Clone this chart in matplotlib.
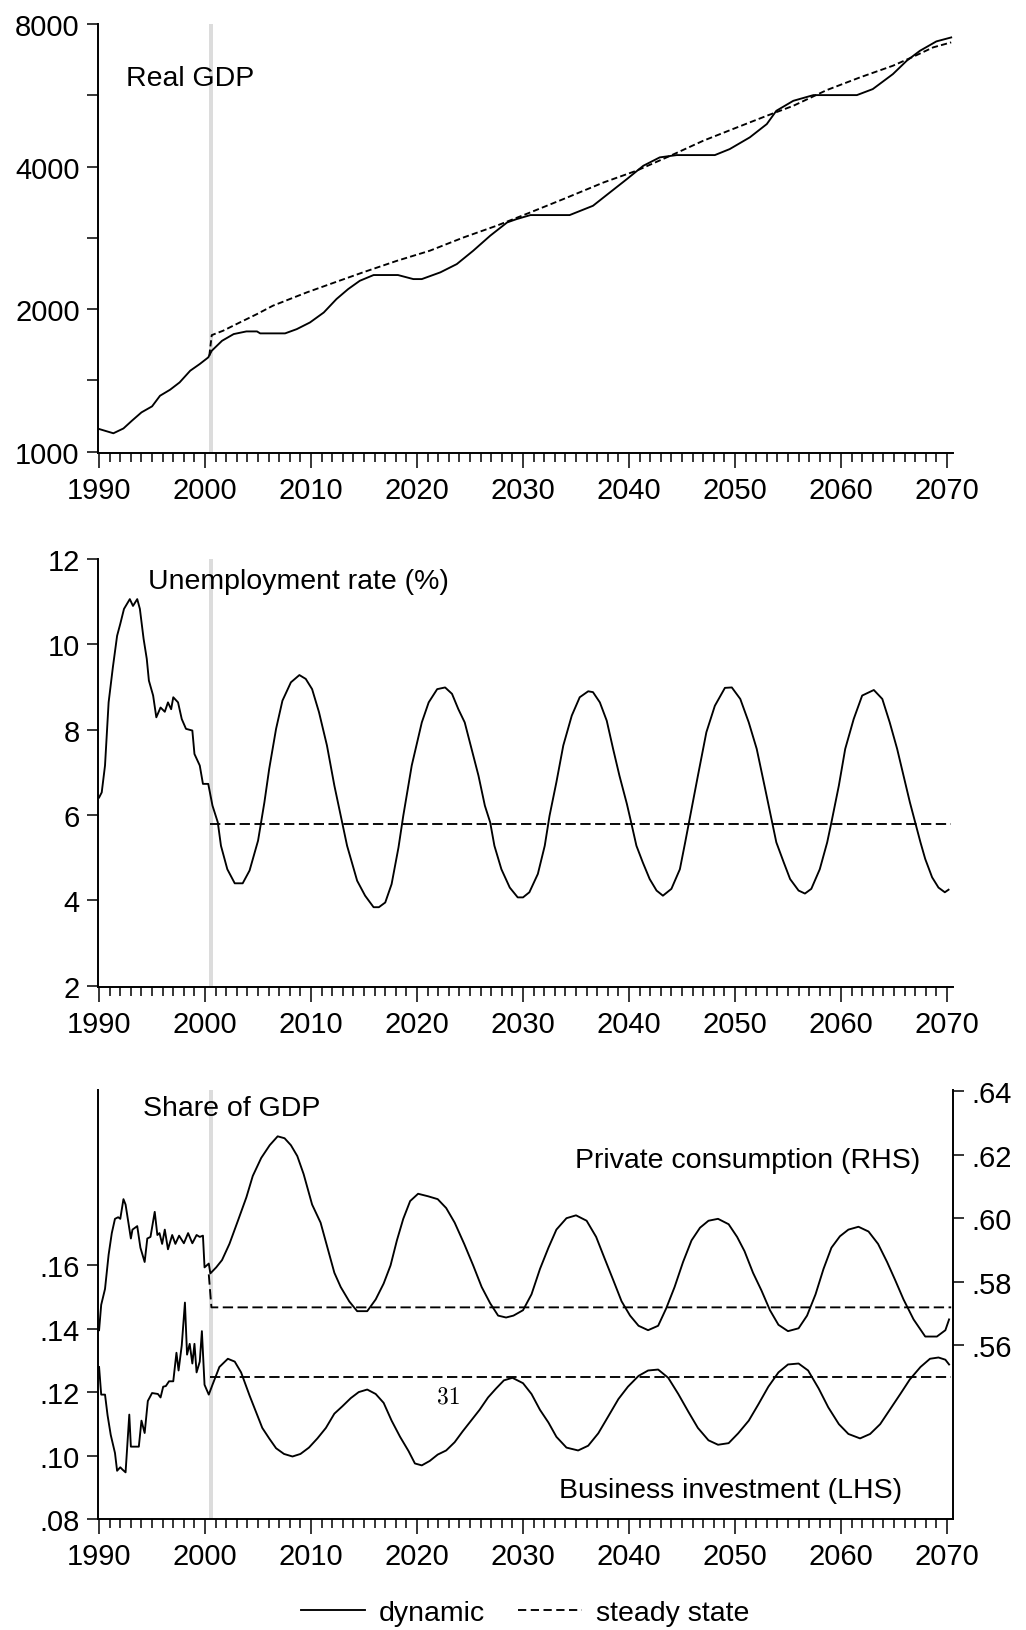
import numpy as np
import matplotlib
matplotlib.use('Agg')
import matplotlib.pyplot as plt
from matplotlib.lines import Line2D
from matplotlib.ticker import NullLocator, MultipleLocator

plt.rcParams['font.family'] = ['Liberation Sans', 'DejaVu Sans']
plt.rcParams['font.size'] = 21

# ==================================================================
# DATA (quarterly simulation, read at turning points)

# Real GDP, level (log scale)
gdp_dyn_years = [1990.0, 1991.35, 1992.3, 1993.1, 1994.0, 1995.0, 1995.75, 1996.7, 1997.6,
                 1998.6, 1999.5, 2000.3, 2000.63, 2001.6, 2002.7, 2003.9, 2004.9, 2005.2,
                 2007.55, 2008.65, 2009.9, 2011.2, 2012.4, 2013.5, 2014.6, 2015.9, 2018.2,
                 2019.65, 2020.45, 2022.2, 2023.75, 2025.3, 2026.9, 2028.5, 2029.4, 2030.7,
                 2034.4, 2036.6, 2038.2, 2039.8, 2041.35, 2042.9, 2044.5, 2048.1, 2049.5,
                 2051.4, 2053.0, 2053.9, 2055.5, 2057.4, 2061.5, 2063.0, 2064.9, 2066.2,
                 2067.45, 2069.0, 2070.4]
gdp_dyn = [1117, 1094, 1120, 1163, 1211, 1247, 1313, 1352, 1401,
           1483, 1532, 1582, 1634, 1715, 1772, 1795, 1795, 1778,
           1778, 1815, 1875, 1968, 2101, 2205, 2296, 2361, 2361,
           2315, 2315, 2392, 2490, 2657, 2858, 3049, 3099, 3160,
           3160, 3306, 3528, 3764, 4016, 4183, 4230, 4230, 4355,
           4611, 4918, 5246, 5507, 5662, 5662, 5830, 6271, 6690,
           7023, 7351, 7494]

gdp_ss_years = [2000.4, 2000.63, 2001.7, 2003.3, 2004.9, 2006.4, 2008.0, 2009.6, 2011.8,
                2014.9, 2018.1, 2021.2, 2024.4, 2027.5, 2030.7, 2033.8, 2037.6, 2040.7,
                2043.9, 2047.0, 2050.2, 2053.0, 2055.5, 2058.65, 2061.8, 2064.9, 2066.8,
                2068.7, 2070.4]
gdp_ss = [1595, 1763, 1801, 1876, 1953, 2034, 2101, 2170, 2260,
          2392, 2530, 2657, 2835, 3000, 3202, 3415, 3703, 3920,
          4216, 4535, 4840, 5121, 5375, 5801, 6172, 6531, 6821,
          7141, 7316]

# Unemployment rate (%)
unemp_years = [1990.0, 1990.25, 1990.56, 1990.9, 1991.3, 1991.7, 1992.0, 1992.35, 1992.9,
               1993.2, 1993.6, 1993.85, 1994.2, 1994.5, 1994.7, 1995.1, 1995.4, 1995.8,
               1996.2, 1996.5, 1996.8, 1997.0, 1997.45, 1997.8, 1998.2, 1998.8, 1999.0,
               1999.5, 1999.8, 2000.3, 2000.7, 2001.2, 2001.5, 2002.1, 2002.8, 2003.55,
               2004.2, 2005.0, 2005.6, 2006.05, 2006.7, 2007.3, 2008.1, 2008.9, 2009.5,
               2010.1, 2010.75, 2011.5, 2012.2, 2012.8, 2013.4, 2014.35, 2015.1, 2015.9,
               2016.4, 2017.0, 2017.6, 2018.25, 2018.7, 2019.5, 2020.45, 2021.1, 2021.9,
               2022.65, 2023.3, 2023.9, 2024.5, 2025.15, 2025.8, 2026.4, 2026.9, 2027.3,
               2027.96, 2028.75, 2029.5, 2030.0, 2030.6, 2031.4, 2032.05, 2032.5, 2033.15,
               2033.8, 2034.6, 2035.35, 2036.15, 2036.6, 2037.25, 2037.9, 2038.5, 2039.1,
               2039.8, 2040.2, 2040.7, 2041.3, 2041.95, 2042.6, 2043.2, 2044.0, 2044.8,
               2045.3, 2045.9, 2046.5, 2047.3, 2048.1, 2049.05, 2049.7, 2050.5, 2051.3,
               2052.05, 2052.85, 2053.5, 2053.9, 2054.6, 2055.2, 2056.0, 2056.6, 2057.2,
               2058.0, 2058.7, 2059.1, 2059.8, 2060.4, 2061.2, 2062.0, 2063.1, 2063.9,
               2064.6, 2065.3, 2065.9, 2066.5, 2067.0, 2067.5, 2067.95, 2068.6, 2069.2,
               2069.8, 2070.15]
unemp = [6.41, 6.53, 7.16, 8.64, 9.46, 10.2, 10.48, 10.83, 11.06,
         10.9, 11.06, 10.83, 10.13, 9.66, 9.15, 8.8, 8.29, 8.52,
         8.42, 8.64, 8.48, 8.76, 8.64, 8.25, 8.02, 7.98, 7.43,
         7.16, 6.73, 6.73, 6.22, 5.83, 5.28, 4.73, 4.4, 4.4,
         4.7, 5.4, 6.3, 7.08, 8.02, 8.68, 9.11, 9.28, 9.19,
         8.95, 8.41, 7.63, 6.69, 5.98, 5.28, 4.46, 4.11, 3.84,
         3.84, 3.95, 4.38, 5.24, 5.98, 7.16, 8.17, 8.64, 8.95,
         8.99, 8.84, 8.48, 8.17, 7.55, 6.92, 6.22, 5.83, 5.28,
         4.73, 4.3, 4.07, 4.07, 4.19, 4.62, 5.28, 5.98, 6.77,
         7.63, 8.33, 8.76, 8.9, 8.88, 8.64, 8.21, 7.55, 6.92,
         6.26, 5.83, 5.28, 4.89, 4.5, 4.23, 4.11, 4.27, 4.73,
         5.36, 6.14, 6.92, 7.94, 8.56, 8.98, 8.99, 8.72, 8.17,
         7.55, 6.61, 5.83, 5.36, 4.89, 4.5, 4.23, 4.16, 4.27,
         4.73, 5.36, 5.83, 6.69, 7.55, 8.25, 8.8, 8.93, 8.72,
         8.17, 7.55, 6.92, 6.3, 5.83, 5.36, 4.97, 4.54, 4.3,
         4.19, 4.25]
unemp_ss_years = [2000.5, 2070.4]
unemp_ss = [5.8, 5.8]

# Private consumption, share of GDP (right axis)
cons_years = [1990.0, 1990.2, 1990.56, 1990.9, 1991.2, 1991.5, 1991.8, 1992.0, 1992.3,
              1992.5, 1993.0, 1993.15, 1993.6, 1993.9, 1994.3, 1994.55, 1994.85, 1995.25,
              1995.5, 1995.7, 1995.95, 1996.2, 1996.5, 1996.9, 1997.2, 1997.55, 1998.0,
              1998.4, 1998.8, 1999.2, 1999.5, 1999.8, 1999.95, 2000.35, 2000.5, 2001.05,
              2001.6, 2002.3, 2003.1, 2003.9, 2004.5, 2005.3, 2006.1, 2006.85, 2007.5,
              2008.1, 2008.7, 2009.3, 2010.1, 2010.9, 2011.5, 2012.2, 2012.8, 2013.6,
              2014.35, 2015.3, 2016.1, 2016.85, 2017.5, 2018.1, 2018.7, 2019.35, 2020.1,
              2021.05, 2021.95, 2022.75, 2023.55, 2024.45, 2025.3, 2026.1, 2026.9, 2027.65,
              2028.4, 2029.1, 2030.0, 2030.8, 2031.6, 2032.4, 2033.15, 2034.1, 2035.0,
              2036.0, 2036.9, 2037.7, 2038.5, 2039.3, 2040.1, 2040.9, 2041.8, 2042.75,
              2043.5, 2044.3, 2045.1, 2045.9, 2046.7, 2047.5, 2048.4, 2049.4, 2050.2,
              2050.9, 2051.7, 2052.5, 2053.3, 2054.1, 2055.0, 2056.0, 2056.8, 2057.6,
              2058.35, 2059.1, 2059.9, 2060.7, 2061.65, 2062.6, 2063.5, 2064.35, 2065.1,
              2065.9, 2066.85, 2067.95, 2069.05, 2069.85, 2070.2]
cons = [0.5647, 0.5727, 0.5777, 0.5885, 0.5953, 0.5998, 0.6003, 0.5998, 0.6060,
        0.6043, 0.5936, 0.5964, 0.5975, 0.5907, 0.5862, 0.5936, 0.5941, 0.6020,
        0.5947, 0.5953, 0.5919, 0.5964, 0.5902, 0.5947, 0.5919, 0.5945, 0.5921,
        0.5953, 0.5921, 0.5947, 0.5941, 0.5945, 0.5845, 0.5857, 0.5826, 0.5845,
        0.5868, 0.5919, 0.5992, 0.6066, 0.6133, 0.6190, 0.6230, 0.6258, 0.6252,
        0.6230, 0.6196, 0.6139, 0.6043, 0.5986, 0.5913, 0.5828, 0.5783, 0.5738,
        0.5707, 0.5707, 0.5744, 0.5794, 0.5851, 0.5930, 0.5998, 0.6054, 0.6077,
        0.6069, 0.6060, 0.6032, 0.5986, 0.5919, 0.5851, 0.5783, 0.5732, 0.5693,
        0.5687, 0.5693, 0.5710, 0.5760, 0.5840, 0.5907, 0.5964, 0.6000, 0.6009,
        0.5992, 0.5941, 0.5873, 0.5806, 0.5738, 0.5693, 0.5661, 0.5647, 0.5661,
        0.5715, 0.5783, 0.5862, 0.5930, 0.5970, 0.5992, 0.5998, 0.5981, 0.5941,
        0.5896, 0.5828, 0.5772, 0.5710, 0.5664, 0.5644, 0.5653, 0.5693, 0.5760,
        0.5840, 0.5907, 0.5943, 0.5964, 0.5973, 0.5958, 0.5919, 0.5862, 0.5806,
        0.5744, 0.5681, 0.5627, 0.5627, 0.5647, 0.5681]
cons_ss_years = [2000.35, 2000.6, 2070.4]
cons_ss = [0.5823, 0.5719, 0.5719]

# Business investment, share of GDP (left axis)
inv_years = [1990.0, 1990.2, 1990.56, 1990.8, 1991.1, 1991.5, 1991.7, 1992.0, 1992.2,
             1992.5, 1992.85, 1993.0, 1993.75, 1994.0, 1994.3, 1994.6, 1995.0, 1995.55,
             1995.8, 1996.05, 1996.3, 1996.6, 1997.0, 1997.3, 1997.5, 1997.8, 1998.1,
             1998.3, 1998.55, 1998.8, 1999.0, 1999.2, 1999.5, 1999.7, 1999.95, 2000.35,
             2000.7, 2001.35, 2002.15, 2002.8, 2003.4, 2004.2, 2004.8, 2005.4, 2006.05,
             2006.7, 2007.45, 2008.25, 2009.0, 2009.8, 2010.6, 2011.4, 2012.2, 2012.95,
             2013.75, 2014.5, 2015.3, 2016.1, 2016.85, 2017.6, 2018.4, 2019.2, 2019.8,
             2020.45, 2021.2, 2021.95, 2022.75, 2023.55, 2024.3, 2025.1, 2025.9, 2026.7,
             2027.45, 2028.2, 2029.0, 2030.0, 2030.8, 2031.6, 2032.4, 2033.15, 2034.1,
             2035.2, 2036.15, 2037.1, 2038.0, 2039.0, 2039.9, 2040.9, 2041.8, 2042.75,
             2043.7, 2044.65, 2045.6, 2046.5, 2047.5, 2048.4, 2049.4, 2050.3, 2051.3,
             2052.2, 2053.15, 2054.1, 2055.0, 2056.0, 2056.9, 2057.9, 2058.8, 2059.8,
             2060.7, 2061.8, 2062.75, 2063.7, 2064.6, 2065.6, 2066.5, 2067.5, 2068.4,
             2069.2, 2069.85, 2070.2]
inv = [0.1279, 0.1192, 0.1192, 0.1127, 0.1065, 0.1008, 0.0952, 0.0963, 0.0956,
       0.0947, 0.1129, 0.1028, 0.1028, 0.1110, 0.1071, 0.1172, 0.1197, 0.1194,
       0.1183, 0.1217, 0.1219, 0.1234, 0.1234, 0.1324, 0.1268, 0.1347, 0.1482,
       0.1318, 0.1352, 0.1290, 0.1352, 0.1262, 0.1296, 0.1392, 0.1223, 0.1192,
       0.1223, 0.1279, 0.1305, 0.1296, 0.1262, 0.1189, 0.1138, 0.1087, 0.1054,
       0.1023, 0.1005, 0.0997, 0.1005, 0.1025, 0.1054, 0.1087, 0.1132, 0.1155,
       0.1181, 0.1200, 0.1208, 0.1194, 0.1166, 0.1110, 0.1059, 0.1014, 0.0975,
       0.0969, 0.0983, 0.1003, 0.1016, 0.1042, 0.1076, 0.1110, 0.1144, 0.1183,
       0.1211, 0.1237, 0.1245, 0.1228, 0.1194, 0.1144, 0.1104, 0.1059, 0.1025,
       0.1016, 0.1031, 0.1070, 0.1121, 0.1178, 0.1217, 0.1251, 0.1268, 0.1271,
       0.1245, 0.1194, 0.1138, 0.1087, 0.1048, 0.1034, 0.1039, 0.1070, 0.1110,
       0.1161, 0.1217, 0.1262, 0.1287, 0.1290, 0.1268, 0.1211, 0.1152, 0.1099,
       0.1068, 0.1054, 0.1068, 0.1099, 0.1144, 0.1194, 0.1240, 0.1279, 0.1305,
       0.1309, 0.1302, 0.1287]
inv_ss_years = [2000.5, 2070.4]
inv_ss = [0.1249, 0.1249]

# shock date marker and axis ticks
shock_start, shock_end = 2000.38, 2000.75
year_ticks = list(range(1990, 2071, 10))
gdp_ticks = [1000, 2000, 4000, 8000]
unemp_ticks = [2, 4, 6, 8, 10, 12]
inv_ticks = [0.08, 0.10, 0.12, 0.14, 0.16]
cons_ticks = [0.56, 0.58, 0.60, 0.62, 0.64]

# ==================================================================
# FIGURE

W, H = 1026, 1631
fig = plt.figure(figsize=(W / 100, H / 100), dpi=100)

LW = 1.35
DASH_TOP = (3.3, 1.7)
DASH = (5.5, 2.4)


def panel(top_px, bottom_px):
    left_px, right_px = 97.7, 953
    ax = fig.add_axes([left_px / W, 1 - bottom_px / H,
                       (right_px - left_px) / W, (bottom_px - top_px) / H])
    ax.set_xlim(1989.87, 2070.57)
    ax.set_xticks(year_ticks)
    ax.set_xticklabels([str(y) for y in year_ticks])
    ax.xaxis.set_minor_locator(MultipleLocator(1))
    ax.tick_params(axis='x', which='major', direction='out', length=10.8, width=1.1, pad=5.5)
    ax.tick_params(axis='x', which='minor', direction='out', length=6.5, width=1.1)
    ax.tick_params(axis='y', which='major', direction='out', length=8, width=1.1, pad=5)
    ax.spines['top'].set_visible(False)
    ax.spines['right'].set_visible(False)
    for s in ('left', 'bottom'):
        ax.spines[s].set_linewidth(1.4)
    ax.axvspan(shock_start, shock_end, color='#dcdcdc', lw=0, zorder=0)
    return ax


# ---- Real GDP
ax1 = panel(25, 454)
ax1.set_yscale('log')
ax1.set_ylim(994, 8000)
mids = [np.sqrt(a * b) for a, b in zip(gdp_ticks[:-1], gdp_ticks[1:])]
ax1.set_yticks(sorted(gdp_ticks + mids))
ax1.set_yticklabels([str(t) if t in gdp_ticks else '' for t in sorted(gdp_ticks + mids)])
ax1.yaxis.set_minor_locator(NullLocator())
ax1.plot(gdp_dyn_years, gdp_dyn, color='black', lw=LW)
ax1.plot(gdp_ss_years, gdp_ss, color='black', lw=LW, dashes=DASH_TOP)
ax1.text(0.033, 0.858, 'Real GDP', transform=ax1.transAxes, fontsize=20.5)

# ---- Unemployment rate
ax2 = panel(560, 988)
ax2.set_ylim(1.97, 12)
ax2.set_yticks(unemp_ticks)
ax2.set_yticklabels([str(t) for t in unemp_ticks])
ax2.plot(unemp_years, unemp, color='black', lw=LW)
ax2.plot(unemp_ss_years, unemp_ss, color='black', lw=LW, dashes=DASH)
ax2.text(0.0588, 0.9315, 'Unemployment rate (%)', transform=ax2.transAxes, fontsize=20.5)

# ---- Shares of GDP, two scales
ax3 = panel(1091, 1520)
ax3.set_ylim(0.08, 0.2152)
ax3.set_yticks(inv_ticks)
ax3.set_yticklabels([('%.2f' % t)[1:] for t in inv_ticks])
ax3.plot(inv_years, inv, color='black', lw=LW)
ax3.plot(inv_ss_years, inv_ss, color='black', lw=LW, dashes=DASH)

ax3r = ax3.twinx()
ax3r.set_ylim(0.5052, 0.6404)
ax3r.set_yticks(cons_ticks)
ax3r.set_yticklabels([('%.2f' % t)[1:] for t in cons_ticks])
ax3r.tick_params(axis='y', direction='out', length=8, width=1.1, pad=5)
for s in ('top', 'left', 'bottom'):
    ax3r.spines[s].set_visible(False)
ax3r.spines['right'].set_linewidth(1.4)
ax3r.plot(cons_years, cons, color='black', lw=LW)
ax3r.plot(cons_ss_years, cons_ss, color='black', lw=LW, dashes=DASH)

ax3.text(0.0525, 0.942, 'Share of GDP', transform=ax3.transAxes, fontsize=20.5)
ax3.text(0.558, 0.8205, 'Private consumption (RHS)', transform=ax3.transAxes, fontsize=20.5)
ax3.text(0.5394, 0.0513, 'Business investment (LHS)', transform=ax3.transAxes, fontsize=20.5)

# page number of the source document
fig.text(448.5 / W, 1 - 1404 / H, '31', family='cmr10', fontsize=17, ha='center', va='baseline')

# ---- legend
handles = [Line2D([], [], color='black', lw=LW),
           Line2D([], [], color='black', lw=LW, dashes=(4.4, 2.4))]
fig.legend(handles, ['dynamic', 'steady state'], loc='center', ncol=2, frameon=False,
           bbox_to_anchor=(0.512, 0.0104), fontsize=20.5, handlelength=2.23,
           handletextpad=0.5, columnspacing=1.15, borderpad=0)

fig.savefig('out.png', dpi=100)
